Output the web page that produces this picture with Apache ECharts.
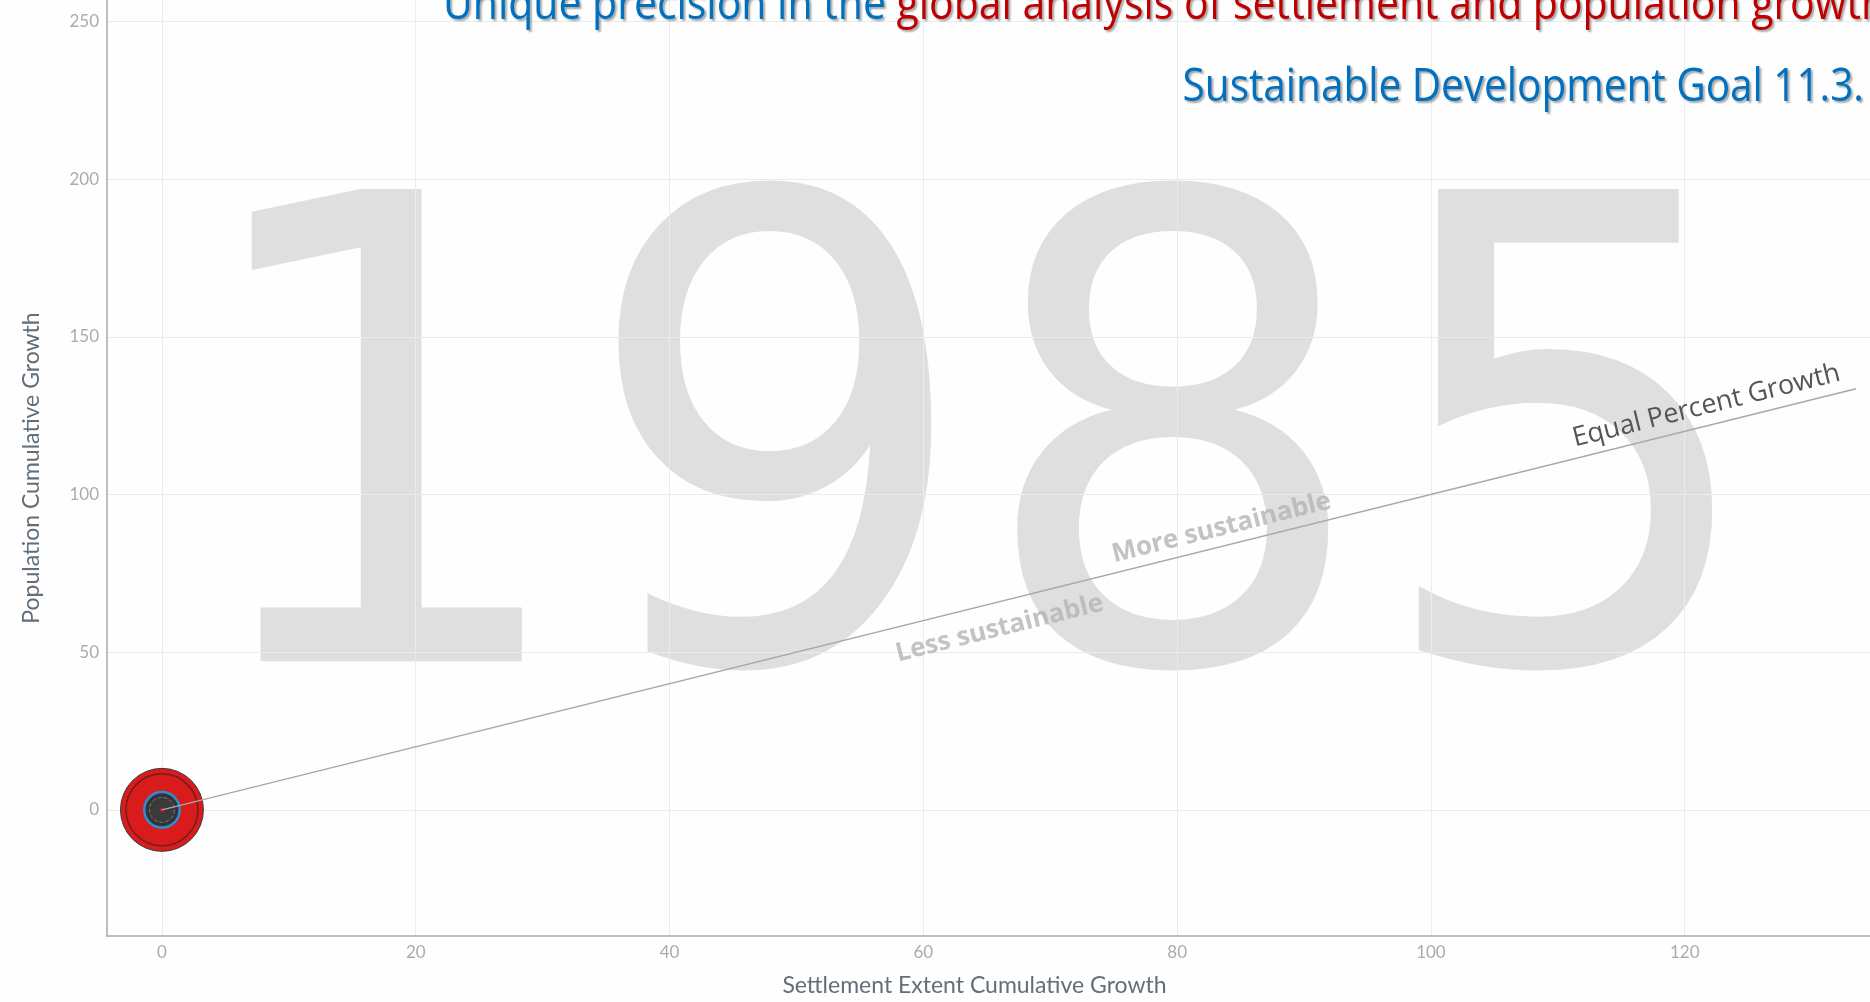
<!DOCTYPE html>
<html><head><meta charset="utf-8">
<script src="https://cdn.jsdelivr.net/npm/echarts@6/dist/echarts.min.js"></script>
<style>html,body{margin:0;padding:0;background:#fdfefd}#c{width:1870px;height:1002px}</style>
</head><body><div id="c"></div>
<script>
// ---- data ----
const year = '1985';
const regions = ['Region A', 'Region B', 'Region C', 'Region D', 'Region E', 'Region F'];
const settlementGrowth = [0, 0, 0, 0, 0, 0];
const populationGrowth = [0, 0, 0, 0, 0, 0];
const relativePopulation = [83, 72, 38, 33, 25, 4];
const xTicks = [0, 20, 40, 60, 80, 100, 120];
const yTicks = [0, 50, 100, 150, 200, 250];
const equalLineX = [0, 133.5];
const equalLineY = [0, 133.5];
const annotationTexts = ['More sustainable', 'Less sustainable'];
const annotationX = [83.5, 66];
const annotationY = [89.4, 57.5];

// ---- styles ----
const bubbleStyles = [
  {color: '#d91b1b', borderColor: '#3a3a3a', borderWidth: 1},
  {color: '#d91b1b', borderColor: '#6e1f1f', borderWidth: 1.5},
  {color: '#2a8fd8', borderColor: '#2a8fd8', borderWidth: 0},
  {color: '#333333', borderColor: '#333333', borderWidth: 0},
  {color: '#3a3a3a', borderColor: '#6f7f86', borderWidth: 1, borderType: 'dashed'},
  {color: '#d91b1b', borderColor: '#d91b1b', borderWidth: 0}
];
const BLUE = '#0070c0', RED = '#c00000';
const shadow = {textShadowColor: 'rgba(0,0,0,0.35)', textShadowBlur: 2, textShadowOffsetX: 2, textShadowOffsetY: 2};

const chart = echarts.init(document.getElementById('c'), null, {renderer: 'canvas'});

const bubbleSeries = regions.map((r, i) => ({
  type: 'scatter',
  name: r,
  data: [[settlementGrowth[i], populationGrowth[i], relativePopulation[i]]],
  symbolSize: v => v[2],
  itemStyle: Object.assign({opacity: 1}, bubbleStyles[i]),
  z: 2 + i,
  silent: true
}));

const option = {
  animation: false,
  backgroundColor: '#fdfefd',
  grid: {left: 107, right: 0, top: 0, bottom: 66, containLabel: false, outerBoundsMode: 'none'},
  xAxis: {
    type: 'value', min: -4.33, max: 134.6,
    name: 'Settlement Extent Cumulative Growth', nameLocation: 'middle', nameGap: 38,
    nameTextStyle: {fontFamily: 'Lato', fontSize: 23, color: '#636e78', padding: [0, 28, 0, 0]},
    axisLine: {show: true, onZero: false, lineStyle: {color: '#a9a9a9', width: 1.5}},
    axisTick: {show: false, customValues: xTicks},
    axisLabel: {customValues: xTicks, fontFamily: 'Lato', fontSize: 17, color: '#ababab', margin: 8},
    splitLine: {show: true, lineStyle: {color: '#e4edef', width: 1}}
  },
  yAxis: {
    type: 'value', min: -40, max: 256.8,
    name: 'Population Cumulative Growth', nameLocation: 'middle', nameGap: 64,
    nameTextStyle: {fontFamily: 'Lato', fontSize: 23, color: '#636e78'},
    axisLine: {show: true, onZero: false, lineStyle: {color: '#a9a9a9', width: 1.5}},
    axisTick: {show: false, customValues: yTicks},
    axisLabel: {customValues: yTicks, fontFamily: 'Lato', fontSize: 17, color: '#ababab', margin: 8},
    splitLine: {show: true, lineStyle: {color: '#e4edef', width: 1}}
  },
  graphic: {elements: [
    {type: 'text', z: -100, silent: true, x: 975, y: 493, scaleX: 0.96,
      style: {text: year, font: '648px "DejaVu Sans"', fill: '#dfdfdf',
        textAlign: 'center', align: 'center', textVerticalAlign: 'middle', verticalAlign: 'middle'}},
    {type: 'text', z: 100, silent: true, x: 443, y: 6, scaleX: 0.91,
      style: Object.assign({
        text: '{b|Unique precision in the }{r|global analysis of settlement and population growth}',
        font: '45px "Open Sans"', fill: BLUE,
        textAlign: 'left', align: 'left', textVerticalAlign: 'middle', verticalAlign: 'middle',
        rich: {
          b: Object.assign({fill: BLUE, color: BLUE, font: '45px "Open Sans"'}, shadow),
          r: Object.assign({fill: RED, color: RED, font: '45px "Open Sans"'}, shadow)
        }
      }, shadow)},
    {type: 'text', z: 100, silent: true, x: 1864, y: 88, scaleX: 0.9,
      style: Object.assign({
        text: 'Sustainable Development Goal 11.3.',
        font: '45px "Open Sans"', fill: BLUE,
        textAlign: 'right', align: 'right', textVerticalAlign: 'middle', verticalAlign: 'middle'
      }, shadow)}
  ]},
  series: bubbleSeries.concat([
    {
      type: 'line', name: 'Equal Percent Growth',
      data: equalLineX.map((x, i) => [x, equalLineY[i]]),
      showSymbol: false, symbol: 'none', silent: true, z: 20,
      lineStyle: {color: '#a8a8a8', width: 1.5},
      markLine: {
        silent: true, symbol: ['none', 'none'],
        lineStyle: {color: 'rgba(0,0,0,0)', width: 1},
        label: {show: true, position: 'insideEndTop', formatter: 'Equal Percent Growth',
          fontFamily: 'Open Sans', fontSize: 27, color: '#555', distance: [12, 6]},
        data: [[{coord: [equalLineX[0], equalLineY[0]]}, {coord: [equalLineX[1], equalLineY[1]]}]]
      }
    },
    {
      type: 'scatter', name: 'annotations', silent: true, z: 21,
      symbolSize: 0,
      data: annotationTexts.map((t, i) => ({name: t, value: [annotationX[i], annotationY[i]]})),
      label: {show: true, position: 'inside', formatter: '{b}', rotate: 14,
        fontFamily: 'Open Sans', fontWeight: 'bold', fontSize: 26, color: '#b4b4b4'}
    }
  ])
};
chart.setOption(option);

// rotate annotation labels along the equal-growth line
const p0 = chart.convertToPixel({gridIndex: 0}, [0, 0]);
const p1 = chart.convertToPixel({gridIndex: 0}, [100, 100]);
const angle = -Math.atan2(p1[1] - p0[1], p1[0] - p0[0]) * 180 / Math.PI;
chart.setOption({series: bubbleSeries.map(() => ({})).concat([{}, {label: {rotate: angle}}])});
</script></body></html>
